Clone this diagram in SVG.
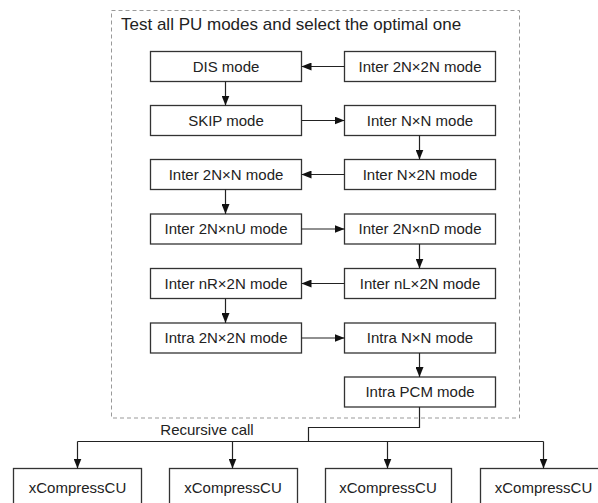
<svg xmlns="http://www.w3.org/2000/svg" width="598" height="503" viewBox="0 0 598 503">
<defs>
<marker id="ah" markerWidth="10" markerHeight="8" refX="10" refY="4" orient="auto" markerUnits="userSpaceOnUse">
<path d="M0,0 L10,4 L0,8 Z" fill="#111"/>
</marker>
<style>
.box{fill:#fff;stroke:#333;stroke-width:1.3}
.t{font-family:"Liberation Sans",Arial,sans-serif;font-size:15px;fill:#222;text-anchor:middle}
.c{fill:none;stroke:#222;stroke-width:1.2}
</style>
</defs>
<rect width="598" height="503" fill="#fff"/>
<g id="frame">
<rect x="111.5" y="10.5" width="408" height="407.5" fill="none" stroke="#999" stroke-width="1" stroke-dasharray="4 3"/>
<text x="121" y="30" font-family="Liberation Sans, Arial, sans-serif" font-size="17" fill="#222">Test all PU modes and select the optimal one</text>
</g>
<g id="n_dis"><rect class="box" x="150.5" y="51.5" width="151" height="30"/><text class="t" x="226" y="71.5">DIS mode</text></g>
<g id="n_i2n2n"><rect class="box" x="344.5" y="51.5" width="151" height="30"/><text class="t" x="420" y="71.5">Inter 2N×2N mode</text></g>
<g id="n_skip"><rect class="box" x="150.5" y="105.5" width="151" height="30"/><text class="t" x="226" y="125.5">SKIP mode</text></g>
<g id="n_inn"><rect class="box" x="344.5" y="105.5" width="151" height="30"/><text class="t" x="420" y="125.5">Inter N×N mode</text></g>
<g id="n_i2nn"><rect class="box" x="150.5" y="159.5" width="151" height="30"/><text class="t" x="226" y="179.5">Inter 2N×N mode</text></g>
<g id="n_in2n"><rect class="box" x="344.5" y="159.5" width="151" height="30"/><text class="t" x="420" y="179.5">Inter N×2N mode</text></g>
<g id="n_i2nnu"><rect class="box" x="150.5" y="214" width="151" height="30"/><text class="t" x="226" y="234">Inter 2N×nU mode</text></g>
<g id="n_i2nnd"><rect class="box" x="344.5" y="214" width="151" height="30"/><text class="t" x="420" y="234">Inter 2N×nD mode</text></g>
<g id="n_inr2n"><rect class="box" x="150.5" y="268.5" width="151" height="30"/><text class="t" x="226" y="288.5">Inter nR×2N mode</text></g>
<g id="n_inl2n"><rect class="box" x="344.5" y="268.5" width="151" height="30"/><text class="t" x="420" y="288.5">Inter nL×2N mode</text></g>
<g id="n_intra2n"><rect class="box" x="150.5" y="323" width="151" height="30"/><text class="t" x="226" y="343">Intra 2N×2N mode</text></g>
<g id="n_intrann"><rect class="box" x="344.5" y="323" width="151" height="30"/><text class="t" x="420" y="343">Intra N×N mode</text></g>
<g id="n_pcm"><rect class="box" x="344.5" y="377" width="151" height="30"/><text class="t" x="420" y="397">Intra PCM mode</text></g>
<g id="n_cu1"><rect class="box" x="13.5" y="468.5" width="128" height="45"/><text class="t" x="77.5" y="493">xCompressCU</text></g>
<g id="n_cu2"><rect class="box" x="169.5" y="468.5" width="128" height="45"/><text class="t" x="233" y="493">xCompressCU</text></g>
<g id="n_cu3"><rect class="box" x="325.5" y="468.5" width="126" height="45"/><text class="t" x="388" y="493">xCompressCU</text></g>
<g id="n_cu4"><rect class="box" x="480.5" y="468.5" width="128" height="45"/><text class="t" x="543.5" y="493">xCompressCU</text></g>
<g id="connectors">
<line class="c" x1="344.5" y1="66.5" x2="301.5" y2="66.5" marker-end="url(#ah)"/>
<line class="c" x1="225.5" y1="81.5" x2="225.5" y2="105.5" marker-end="url(#ah)"/>
<line class="c" x1="301.5" y1="120.5" x2="344.5" y2="120.5" marker-end="url(#ah)"/>
<line class="c" x1="419.5" y1="135.5" x2="419.5" y2="159.5" marker-end="url(#ah)"/>
<line class="c" x1="344.5" y1="174.5" x2="301.5" y2="174.5" marker-end="url(#ah)"/>
<line class="c" x1="225.5" y1="189.5" x2="225.5" y2="214" marker-end="url(#ah)"/>
<line class="c" x1="301.5" y1="229" x2="344.5" y2="229" marker-end="url(#ah)"/>
<line class="c" x1="419.5" y1="244" x2="419.5" y2="268.5" marker-end="url(#ah)"/>
<line class="c" x1="344.5" y1="283.5" x2="301.5" y2="283.5" marker-end="url(#ah)"/>
<line class="c" x1="225.5" y1="298.5" x2="225.5" y2="323" marker-end="url(#ah)"/>
<line class="c" x1="301.5" y1="338" x2="344.5" y2="338" marker-end="url(#ah)"/>
<line class="c" x1="419.5" y1="353" x2="419.5" y2="377" marker-end="url(#ah)"/>
<polyline class="c" points="419.5,407 419.5,427.5 308.5,427.5 308.5,441.5"/>
<line class="c" x1="77.5" y1="441.5" x2="543.5" y2="441.5"/>
<line class="c" x1="77.5" y1="441.5" x2="77.5" y2="468.5" marker-end="url(#ah)"/>
<line class="c" x1="232.5" y1="441.5" x2="232.5" y2="468.5" marker-end="url(#ah)"/>
<line class="c" x1="387.5" y1="441.5" x2="387.5" y2="468.5" marker-end="url(#ah)"/>
<line class="c" x1="543.5" y1="441.5" x2="543.5" y2="468.5" marker-end="url(#ah)"/>
<text class="t" x="207" y="435">Recursive call</text>
</g>
</svg>
